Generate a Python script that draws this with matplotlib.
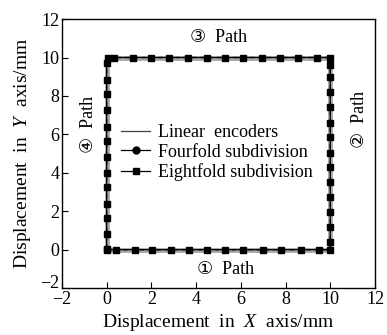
import matplotlib.pyplot as plt
from matplotlib.lines import Line2D

plt.rcParams['font.family'] = ['Liberation Serif', 'DejaVu Sans']
plt.rcParams['mathtext.fontset'] = 'custom'
plt.rcParams['mathtext.rm'] = 'Liberation Serif'
plt.rcParams['mathtext.it'] = 'Liberation Serif:italic'

# linear encoder path (square 0..10 mm)
lin_x = [0, 10, 10, 0, 0]
lin_y = [0, 0, 10, 10, 0]

# subdivision sample points along the path: bottom, right, top, left
bot_x = [0, 0.4, 1.25, 2.05, 2.9, 3.7, 4.5, 5.3, 6.1, 7.0, 7.8, 8.7, 9.5, 10.0]
right_y = [0.4, 1.2, 1.95, 2.75, 3.5, 4.3, 5.05, 5.85, 6.6, 7.4, 8.2, 9.0, 9.6, 10.0]
top_x = [9.4, 8.55, 7.75, 6.95, 6.1, 5.3, 4.5, 3.65, 2.8, 2.0, 1.2, 0.35, 0.05]
left_y = [9.7, 8.85, 8.1, 7.25, 6.4, 5.65, 4.8, 4.0, 3.25, 2.4, 1.65, 0.8, 0.05]

sx = bot_x + [10.0] * len(right_y) + top_x + [0.0] * len(left_y)
sy = [0.0] * len(bot_x) + right_y + [10.0] * len(top_x) + left_y

fs = 13

fig = plt.figure(figsize=(3.87, 3.35), dpi=100)
ax = fig.add_axes([0.160, 0.140, 0.809, 0.803])

ax.plot(lin_x, lin_y, color='#a8a8a8', lw=3.5, zorder=1)
ax.plot(sx, sy, color='black', lw=0.9, marker='o', ms=3.5, zorder=2)
ax.plot(sx, sy, color='black', lw=1.0, ls='--', dashes=(3, 3), marker='s', ms=4.2, zorder=3)

ax.set_xlim(-2, 12)
ax.set_ylim(-2, 12)
ax.set_xticks(range(-2, 13, 2))
ax.set_yticks(range(-2, 13, 2))
ax.set_xticklabels(['\u22122'] + [str(v) for v in range(0, 13, 2)])
ax.set_yticklabels(['\u22122'] + [str(v) for v in range(0, 13, 2)])
ax.tick_params(direction='in', length=4, width=0.8, labelsize=fs, pad=2)
ax.get_yticklabels()[0].set_va('baseline')
for s in ax.spines.values():
    s.set_linewidth(1.0)

ax.set_xlabel(r'Displacement  in  $\it{X}$  axis/mm', fontsize=14, labelpad=3)
ax.set_ylabel(r'Displacement  in  $\it{Y}$  axis/mm', fontsize=14, labelpad=5)

ax.text(5.0, 11.05, '\u2462  Path', ha='center', va='center', fontsize=fs)
ax.text(5.3, -1.05, '\u2460  Path', ha='center', va='center', fontsize=fs)
ax.text(11.3, 6.8, '\u2461  Path', ha='center', va='center', fontsize=fs, rotation=90)
ax.text(-0.8, 6.5, '\u2463  Path', ha='center', va='center', fontsize=fs, rotation=90)

handles = [
    Line2D([], [], color='#404040', lw=0.9),
    Line2D([], [], color='black', lw=0.9, marker='o', ms=5),
    Line2D([], [], color='black', lw=0.9, marker='s', ms=5),
]
labels = ['Linear  encoders', 'Fourfold subdivision', 'Eightfold subdivision']
ax.legend(handles, labels, loc='upper left', bbox_to_anchor=(0.19, 0.61),
          frameon=False, fontsize=fs, handlelength=1.6, handletextpad=0.4,
          labelspacing=0.15, borderpad=0, borderaxespad=0)

fig.savefig('out.png', dpi=100)
